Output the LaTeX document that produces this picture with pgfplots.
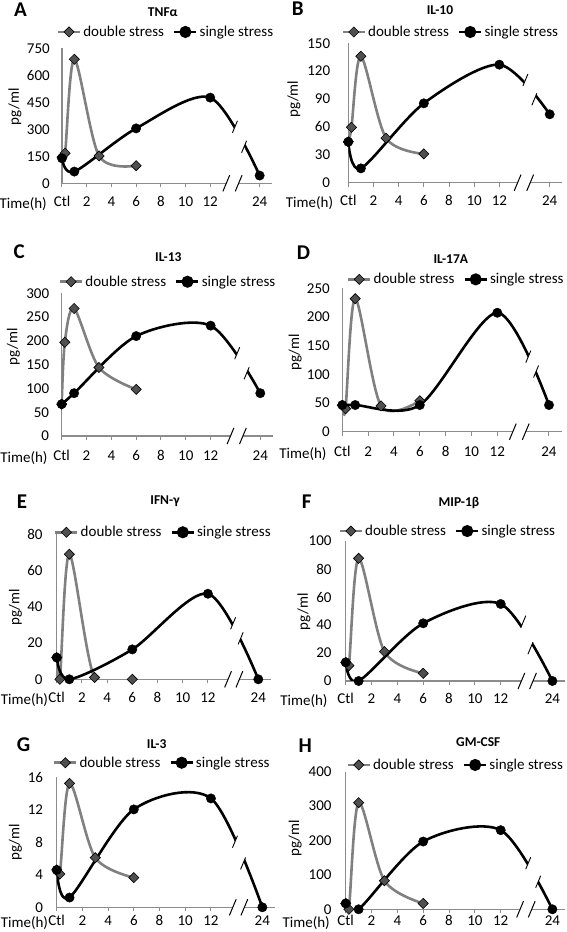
\documentclass[border=0pt]{standalone}
\usepackage{fontspec}
\setmainfont{Carlito}
\usepackage{pgfplots}
\usepackage{pgfplotstable}
\pgfplotsset{compat=1.18}
\usetikzlibrary{calc}
\definecolor{axgray}{RGB}{140,140,140}
\definecolor{dsgray}{RGB}{128,128,128}
\definecolor{dsfill}{RGB}{80,80,80}
\newcommand{\tf}{\fontsize{15}{17}\selectfont}
\newcommand{\letf}{\fontsize{21}{21}\selectfont\bfseries}
\newcommand{\titf}{\fontsize{13.5}{15}\selectfont\bfseries}

% ---------- data (x: hours, 24 h plotted at 16) ----------
\pgfplotstableread{
x y
0 145
0.25 167
1 689
3 152
6 98
}\Ads
\pgfplotstableread{
x y
0 139
1 65
6 305
12 476
16 43
}\Ass
\pgfplotstableread{
x y
0 44
0.25 59.6
1 136
3 48
6 31
}\Bds
\pgfplotstableread{
x y
0 44
1 15.4
6 85.4
12 127
16 73.6
}\Bss
\pgfplotstableread{
x y
0 67
0.25 197
1 268
3 144
6 98
}\Cds
\pgfplotstableread{
x y
0 67
1 90
6 210
12 232
16 90
}\Css
\pgfplotstableread{
x y
0 46
0.25 40
1 232
3 45
6 54
}\Dds
\pgfplotstableread{
x y
0 46.5
1 46.5
6 46.5
12 207.5
16 46.5
}\Dss
\pgfplotstableread{
x y
0 12
0.25 0
1 69
3 1
6 0
}\Eds
\pgfplotstableread{
x y
0 12
1 0
6 16.5
12 47.2
16 0
}\Ess
\pgfplotstableread{
x y
0 13.3
0.25 11
1 87.6
3 21
6 5.5
}\Fds
\pgfplotstableread{
x y
0 13.3
1 0
6 41.2
12 55
16 0
}\Fss
\pgfplotstableread{
x y
0 4.6
0.25 4.1
1 15.25
3 6.1
6 3.65
}\Gds
\pgfplotstableread{
x y
0 4.6
1 1.2
6 12.05
12 13.4
16 0
}\Gss
\pgfplotstableread{
x y
0 17
0.25 0
1 310
3 83
6 17
}\Hds
\pgfplotstableread{
x y
0 17
1 0
6 197
12 230
16 0
}\Hss

\pgfplotsset{
 dsmarks/.style={mark=square*, mark size=3.6pt, mark options={rotate=45, fill=dsfill, draw=black, line width=0.6pt, solid}},
 ssmarks/.style={mark=*, mark size=4.7pt, mark options={fill=black, draw=black, solid}},
 dsline/.style={color=dsgray, line width=2.6pt, dsmarks},
 ssline/.style={color=black, line width=2.6pt, ssmarks},
 panel/.style={
  scale only axis, xmin=0, xmax=17, ymin=0,
  axis x line*=bottom, axis y line*=left,
  axis line style={draw=axgray, line width=1.2pt},
  xtick={0,2,4,6,8,10,12,16}, xticklabels={Ctl,2,4,6,8,10,12,24},
  x tick style={draw=axgray, line width=1pt},
  y tick style={draw=none},
  tick align=outside, major tick length=4pt,
  tick label style={font=\tf},
  /pgf/number format/assume math mode=true,
  xlabel={Time(h)}, ylabel={pg/ml},
  label style={font=\tf},
  xlabel style={at={(axis description cs:0,0)}, anchor=base east, inner sep=0pt},
  ylabel style={anchor=center, inner sep=0pt},
  legend columns=2,
  legend cell align=left,
  legend style={draw=none, fill=none, anchor=center, font=\tf, inner sep=0pt,
    /tikz/every even column/.append style={column sep=7pt}},
  legend image code/.code={\draw[mark repeat=2,mark phase=2,##1] plot coordinates {(0pt,0pt) (11pt,0pt) (22pt,0pt)};},
 },
 tl/.style={xticklabel style={anchor=base, inner sep=0pt, yshift=-#1+6pt}, xlabel style={yshift=-#1}},
 yl/.style={yticklabel style={anchor=east, inner sep=0pt, xshift=-#1+4pt}},
 xl/.style={xlabel style={xshift=-#1}},
}

\newcommand{\panelplots}[2]{%
 \addplot[dsgray, line width=2.6pt, smooth, forget plot] table {#1};
 \addplot[black, line width=2.6pt, smooth, forget plot] table {#2};
 \addplot[dsmarks, only marks, forget plot] table {#1};
 \addplot[ssmarks, only marks, forget plot] table {#2};
 \addlegendimage{dsline}\addlegendentry{double stress}
 \addlegendimage{ssline}\addlegendentry{single stress}
}
\newcommand{\breaks}{%
 \fill[white] ($(bl)+(-7.7,-18.5)$) -- ($(bl)+(7.7,18.5)$) -- ($(br)+(7.7,18.5)$) -- ($(br)+(-7.7,-18.5)$) -- cycle;
 \draw[black, line width=0.9pt] ($(bl)+(-2.5,-6)$) -- ($(bl)+(2.5,6)$);
 \draw[black, line width=0.9pt] ($(br)+(-2.5,-6)$) -- ($(br)+(2.5,6)$);
 \fill[white] ($(al)+(-3.4,-8.1)$) -- ($(al)+(3.4,8.1)$) -- ($(ar)+(3.4,8.1)$) -- ($(ar)+(-3.4,-8.1)$) -- cycle;
 \draw[black, line width=1pt] ($(al)+(-3.4,-8.1)$) -- ($(al)+(3.4,8.1)$);
 \draw[black, line width=1pt] ($(ar)+(-3.4,-8.1)$) -- ($(ar)+(3.4,8.1)$);
}
\newcommand{\brkcoords}[4]{%
 \coordinate (bl) at (axis cs:#1);
 \coordinate (br) at (axis cs:#2);
 \coordinate (al) at (axis cs:#3,0);
 \coordinate (ar) at (axis cs:#4,0);
}

\begin{document}
\begin{tikzpicture}[x=1pt,y=1pt]
\useasboundingbox (0,0) rectangle (567,932);

% ---------------- A ----------------
\begin{axis}[panel, at={(62pt,748.7pt)}, anchor=south west, width=210pt, height=135pt,
  ymax=750, ytick={0,150,300,450,600,750}, yl=12pt, tl=25pt, xl=15pt,
  ylabel style={at={(axis description cs:-0.224,0.567)}},
  legend style={at={(axis description cs:0.495,1.121)}}]
\panelplots{\Ads}{\Ass}
\brkcoords{14.0,314}{14.74,203}{13.3}{14.3}
\end{axis}
\breaks

% ---------------- B ----------------
\begin{axis}[panel, at={(348.3pt,749.3pt)}, anchor=south west, width=214pt, height=139.4pt,
  ymax=150, ytick={0,30,60,90,120,150}, yl=18pt, tl=25pt, xl=15pt,
  ylabel style={at={(axis description cs:-0.254,0.6)}},
  legend style={at={(axis description cs:0.479,1.081)}}]
\panelplots{\Bds}{\Bss}
\brkcoords{14.07,110.5}{14.78,89.8}{13.45}{14.45}
\end{axis}
\breaks

% ---------------- C ----------------
\begin{axis}[panel, at={(61.7pt,496pt)}, anchor=south west, width=211pt, height=142.7pt,
  ymax=300, ytick={0,50,100,150,200,250,300}, yl=12.4pt, tl=27pt, xl=14pt,
  ylabel style={at={(axis description cs:-0.229,0.626)}},
  legend style={at={(axis description cs:0.504,1.081)}}]
\panelplots{\Cds}{\Css}
\brkcoords{14.14,174}{14.9,132}{13.6}{14.6}
\end{axis}
\breaks

% ---------------- D ----------------
\begin{axis}[panel, at={(342.3pt,500.3pt)}, anchor=south west, width=219.6pt, height=143.3pt,
  ymax=250, ytick={0,50,100,150,200,250}, yl=12.3pt, tl=27pt, xl=15.6pt,
  ylabel style={at={(axis description cs:-0.215,0.554)}},
  legend style={at={(axis description cs:0.519,1.063)}}]
\panelplots{\Dds}{\Dss}
\brkcoords{14.4,131}{15.0,105}{13.2}{14.2}
\end{axis}
\breaks

% ---------------- E ----------------
\begin{axis}[panel, at={(56.7pt,252.7pt)}, anchor=south west, width=214.2pt, height=145pt,
  ymax=80, ytick={0,20,40,60,80}, yl=14pt, tl=25pt, xl=8.5pt,
  ylabel style={at={(axis description cs:-0.193,0.497)}},
  legend style={at={(axis description cs:0.498,1.014)}}]
\panelplots{\Eds}{\Ess}
\brkcoords{14.0,30.9}{14.6,22.6}{13.6}{14.5}
\end{axis}
\breaks

% ---------------- F ----------------
\begin{axis}[panel, at={(345.7pt,251pt)}, anchor=south west, width=219.6pt, height=140pt,
  ymax=100, ytick={0,20,40,60,80,100}, yl=14pt, tl=25pt, xl=18pt,
  ylabel style={at={(axis description cs:-0.19,0.495)}},
  legend style={at={(axis description cs:0.465,1.071)}}]
\panelplots{\Fds}{\Fss}
\brkcoords{13.75,42.4}{14.3,23.4}{13.6}{14.5}
\end{axis}
\breaks

% ---------------- G ----------------
\begin{axis}[panel, at={(56.7pt,24.7pt)}, anchor=south west, width=218.5pt, height=130pt,
  ymax=16, ytick={0,4,8,12,16}, yl=13.4pt, tl=20pt, xl=8.5pt,
  ylabel style={at={(axis description cs:-0.189,0.5)}},
  legend style={at={(axis description cs:0.483,1.112)}}]
\panelplots{\Gds}{\Gss}
\brkcoords{13.87,8.07}{14.5,5.4}{13.7}{14.6}
\end{axis}
\breaks

% ---------------- H ----------------
\begin{axis}[panel, at={(345.7pt,22.7pt)}, anchor=south west, width=219.6pt, height=137.6pt,
  ymax=400, ytick={0,100,200,300,400}, yl=14pt, tl=18pt, xl=15.7pt,
  ylabel style={at={(axis description cs:-0.23,0.516)}},
  legend style={at={(axis description cs:0.501,1.049)}}]
\panelplots{\Hds}{\Hss}
\brkcoords{14.13,134}{14.9,80}{13.5}{14.4}
\end{axis}
\breaks

% ---------------- panel letters and titles ----------------
\node[anchor=base west, font=\letf, inner sep=0pt] at (14,915.3) {A};
\node[anchor=base west, font=\letf, inner sep=0pt] at (291.7,916) {B};
\node[anchor=base west, font=\letf, inner sep=0pt] at (13.3,673.7) {C};
\node[anchor=base west, font=\letf, inner sep=0pt] at (296.7,672) {D};
\node[anchor=base west, font=\letf, inner sep=0pt] at (16.7,423.7) {E};
\node[anchor=base west, font=\letf, inner sep=0pt] at (301.7,423.7) {F};
\node[anchor=base west, font=\letf, inner sep=0pt] at (16.7,180.3) {G};
\node[anchor=base west, font=\letf, inner sep=0pt] at (298.3,179.3) {H};

\node[anchor=base, font=\titf, inner sep=0pt] at (162.8,915.3) {TNFα};
\node[anchor=base, font=\titf, inner sep=0pt] at (440,917) {IL-10};
\node[anchor=base, font=\titf, inner sep=0pt] at (168.3,670.3) {IL-13};
\node[anchor=base, font=\titf, inner sep=0pt] at (450.8,668.7) {IL-17A};
\node[anchor=base, font=\titf, inner sep=0pt] at (165,427) {IFN-γ};
\node[anchor=base, font=\titf, inner sep=0pt] at (459,425.3) {MIP-1β};
\node[anchor=base, font=\titf, inner sep=0pt] at (156.7,183.7) {IL-3};
\node[anchor=base, font=\titf, inner sep=0pt] at (478.3,185.3) {GM-CSF};
\end{tikzpicture}
\end{document}
